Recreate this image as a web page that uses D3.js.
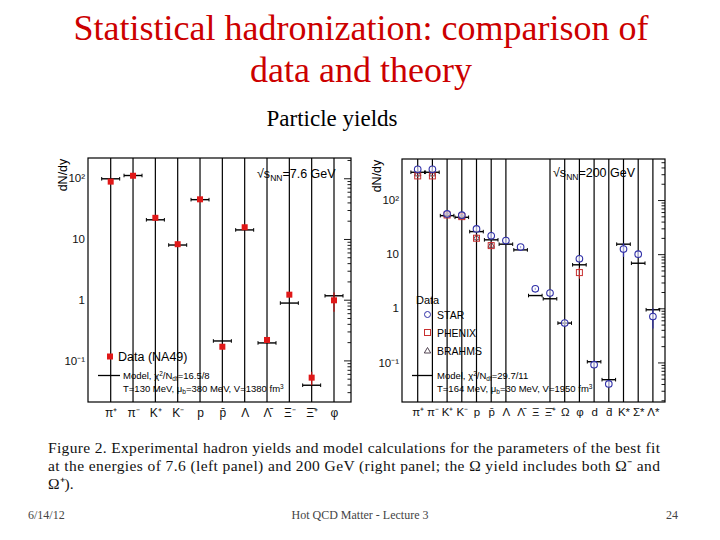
<!DOCTYPE html>
<html><head><meta charset="utf-8">
<script src="https://cdn.jsdelivr.net/npm/d3@7"></script>
<style>body{margin:0;background:#fff}svg{display:block}</style>
</head><body>
<svg id="c" width="720" height="540"></svg>
<script>
// ---------- data ----------
const leftCats = ["π⁺","π⁻","K⁺","K⁻","p","p̄","Λ","Λ̄","Ξ⁻","Ξ̄⁺","φ"];
const leftData = [88, 110, 22.3, 8.2, 45, 0.168, 15.6, 0.217, 1.21, 0.052, 0.977];
const leftErr  = [0.03,0.03,0.04,0.05,0.03,0.06,0.05,0.06,0.08,0.25,0.35];
const leftModel= [98, 111, 20.7, 7.95, 44.4, 0.209, 14.1, 0.194, 0.88, 0.039, 1.16];

const rightCats = ["π⁺","π⁻","K⁺","K⁻","p","p̄","Λ","Λ̄","Ξ","Ξ̄⁺","Ω","φ","d","d̄","K*","Σ*","Λ*"];
const starData  = [370, 370, 55.5, 52.5, 29.3, 21.8, 17.8, 13.5, 2.29, 1.91, 0.533, 8.2, 0.091, 0.040, 12.4, 10, 0.706];
const starErr   = [0.05,0.05,0.05,0.05,0.08,0.08,0.05,0.05,0.05,0.05,0.05,0.06,0.12,0.12,0.28,0.15,0.40];
const phenixData= [279, 279, 53, 49.4, 19.7, 14.4, null, null, null, null, null, 4.57, null, null, null, null, null];
const phenixErr = [0.05,0.05,0.04,0.04,0.08,0.08,0,0,0,0,0,0.23,0,0,0,0,0];
const brahmsData= [312, 312, 54.7, 51, 20.6, 15, null, null, null, null, null, null, null, null, null, null, null];
const rightModel= [326, 326, 51.5, 48, 26.1, 18.4, 15.3, 12, 1.72, 1.5, 0.533, 6.36, 0.103, 0.048, 15.3, 6.8, 0.94];
const rightNoGuide = ["Λ̄","Ξ"];

const yTickVals = [0.1, 1, 10, 100];
const yTickText = ["10⁻¹", "1", "10", "10²"];

const svg = d3.select("#c");
svg.append("rect").attr("width",720).attr("height",540).attr("fill","#fff");

// ---------- titles ----------
const serif = "'Liberation Serif','Times New Roman',serif";
const sans = "'Liberation Sans',Arial,sans-serif";
svg.append("text").attr("x",361).attr("y",40).attr("text-anchor","middle")
  .attr("font-family",serif).attr("font-size",36).attr("fill","#cc0000")
  .text("Statistical hadronization: comparison of");
svg.append("text").attr("x",361).attr("y",82).attr("text-anchor","middle")
  .attr("font-family",serif).attr("font-size",36).attr("fill","#cc0000")
  .text("data and theory");
svg.append("text").attr("x",332).attr("y",126).attr("text-anchor","middle")
  .attr("font-family",serif).attr("font-size",23).attr("fill","#000")
  .text("Particle yields");

// ---------- panel helper ----------
function panel(o){
  const g = svg.append("g");
  const x = d3.scalePoint().domain(o.cats).range(o.xr);
  const y = d3.scaleLog().domain(o.yd).range([o.fb, o.ft]);
  // guides
  g.selectAll("line.guide").data(o.cats.filter(c=>!(o.noGuide||[]).includes(c))).join("line")
    .attr("x1",d=>x(d)).attr("x2",d=>x(d)).attr("y1",o.ft).attr("y2",o.fb)
    .attr("stroke","#000").attr("stroke-width",1.2);
  // frame
  g.append("rect").attr("x",o.fl).attr("y",o.ft).attr("width",o.fr-o.fl).attr("height",o.fb-o.ft)
    .attr("fill","none").attr("stroke","#000").attr("stroke-width",1.2);
  // right-side ticks (inward)
  const minors = [];
  for (let e=-2;e<=2;e++) for (let m=2;m<=9;m++){const v=m*Math.pow(10,e); if(v>o.yd[0]&&v<o.yd[1]) minors.push(v);}
  const ma = g.append("g").attr("transform",`translate(${o.fr},0)`)
    .call(d3.axisLeft(y).tickValues(yTickVals).tickSize(7).tickFormat(""));
  const mi = g.append("g").attr("transform",`translate(${o.fr},0)`)
    .call(d3.axisLeft(y).tickValues(minors).tickSize(3.5).tickFormat(""));
  [ma,mi].forEach(a=>{a.select(".domain").remove(); a.selectAll("line").attr("stroke-width",0.9);});
  // left labels
  const la = g.append("g").attr("transform",`translate(${o.fl},0)`)
    .call(d3.axisLeft(y).tickValues(yTickVals).tickSize(0).tickPadding(3)
      .tickFormat(d=>yTickText[yTickVals.indexOf(d)]));
  la.select(".domain").remove();
  la.selectAll("text").attr("font-family",sans).attr("font-size",11.5).attr("fill","#111");
  // bottom labels
  const ba = g.append("g").attr("transform",`translate(0,${o.fb})`)
    .call(d3.axisBottom(x).tickSize(0).tickPadding(6));
  ba.select(".domain").remove();
  ba.selectAll("text").attr("font-family",sans).attr("font-size",o.lblSize).attr("fill","#111");
  // y title
  g.append("text").attr("transform",`translate(${o.ytx},${o.yty}) rotate(-90)`)
    .attr("text-anchor","middle").attr("font-family",sans).attr("font-size",12.5).text("dN/dy");
  // energy label
  const t = g.append("text").attr("x",o.ex).attr("y",o.ey).attr("font-family",sans).attr("font-size",12.5);
  t.append("tspan").text("√s");
  t.append("tspan").attr("font-size",8.5).attr("dy",3).text("NN");
  t.append("tspan").attr("dy",-3).text(o.energy);
  // model bars
  const mb = g.append("g");
  o.cats.forEach((c,i)=>{
    const v=o.model[i]; if(v==null) return;
    const cx=x(c), cy=y(v);
    mb.append("line").attr("x1",cx-o.hw).attr("x2",cx+o.hw).attr("y1",cy).attr("y2",cy).attr("stroke","#000").attr("stroke-width",1.4);
    [cx-o.hw,cx+o.hw].forEach(ex=>mb.append("line").attr("x1",ex).attr("x2",ex).attr("y1",cy-1.8).attr("y2",cy+1.8).attr("stroke","#000").attr("stroke-width",1));
  });
  return {g,x,y};
}

// ---------- left panel ----------
const L = panel({cats:leftCats, xr:[110.7,334], yd:[0.02065,215.6], fl:88, fr:351, ft:158, fb:402,
  noGuide:[], model:leftModel, hw:9, lblSize:12, ytx:67, yty:175, ex:257, ey:178, energy:"=7.6 GeV"});
leftCats.forEach((c,i)=>{
  const v=leftData[i], e=leftErr[i], cx=L.x(c);
  L.g.append("line").attr("x1",cx).attr("x2",cx).attr("y1",L.y(v*(1-e))).attr("y2",L.y(v*(1+e)))
    .attr("stroke","#c01010").attr("stroke-width",1.2);
  L.g.append("rect").attr("x",cx-3).attr("y",L.y(v)-3).attr("width",6).attr("height",6).attr("fill","#e01818");
});
// left legend
L.g.append("rect").attr("x",107).attr("y",353.5).attr("width",6).attr("height",6).attr("fill","#e01818");
L.g.append("text").attr("x",118).attr("y",361).attr("font-family",sans).attr("font-size",12.5).text("Data (NA49)");
L.g.append("line").attr("x1",98).attr("x2",120).attr("y1",375.5).attr("y2",375.5).attr("stroke","#000").attr("stroke-width",1.3);
const lt1 = L.g.append("text").attr("x",123).attr("y",378.5).attr("font-family",sans).attr("font-size",9.5);
lt1.append("tspan").text("Model, χ");
lt1.append("tspan").attr("font-size",6.5).attr("dy",-3).text("2");
lt1.append("tspan").attr("dy",3).text("/N");
lt1.append("tspan").attr("font-size",6.5).attr("dy",2).text("df");
lt1.append("tspan").attr("dy",-2).text("=16.5/8");
const lt2 = L.g.append("text").attr("x",123).attr("y",391.5).attr("font-family",sans).attr("font-size",9.5);
lt2.append("tspan").text("T=130 MeV, μ");
lt2.append("tspan").attr("font-size",6.5).attr("dy",2).text("b");
lt2.append("tspan").attr("dy",-2).text("=380 MeV, V=1380 fm");
lt2.append("tspan").attr("font-size",6.5).attr("dy",-3).text("3");

// ---------- right panel ----------
const R = panel({cats:rightCats, xr:[417.7,652.9], yd:[0.01858,573], fl:402, fr:665, ft:159, fb:402,
  noGuide:rightNoGuide, model:rightModel, hw:6.8, lblSize:11.5, ytx:381, yty:176, ex:553, ey:177, energy:"=200 GeV"});
const blue="#3030a8", pred="#c83030", tri="#403040";
rightCats.forEach((c,i)=>{
  const cx=R.x(c);
  if(brahmsData[i]!=null){
    const cy=R.y(brahmsData[i]);
    R.g.append("path").attr("d",`M${cx-3.2},${cy+2.6}L${cx+3.2},${cy+2.6}L${cx},${cy-3}Z`)
      .attr("fill","none").attr("stroke",tri).attr("stroke-width",0.9);
  }
  if(phenixData[i]!=null){
    const v=phenixData[i], e=phenixErr[i], cy=R.y(v);
    R.g.append("line").attr("x1",cx).attr("x2",cx).attr("y1",R.y(v*(1-e))).attr("y2",R.y(v*(1+e))).attr("stroke",pred).attr("stroke-width",1);
    R.g.append("rect").attr("x",cx-3).attr("y",cy-3).attr("width",6).attr("height",6)
      .attr("fill","none").attr("stroke",pred).attr("stroke-width",1);
  }
  if(starData[i]!=null){
    const v=starData[i], e=starErr[i], cy=R.y(v);
    R.g.append("line").attr("x1",cx).attr("x2",cx).attr("y1",R.y(v*(1-e))).attr("y2",R.y(v*(1+e))).attr("stroke",blue).attr("stroke-width",1.2);
    R.g.append("circle").attr("cx",cx).attr("cy",cy).attr("r",3.3)
      .attr("fill","#fff").attr("fill-opacity",0.6).attr("stroke",blue).attr("stroke-width",1.1);
  }
});
// right legend
R.g.append("text").attr("x",416).attr("y",304).attr("font-family",sans).attr("font-size",11).text("Data");
R.g.append("circle").attr("cx",427.5).attr("cy",314.5).attr("r",3).attr("fill","none").attr("stroke",blue).attr("stroke-width",1);
R.g.append("text").attr("x",437).attr("y",318.5).attr("font-family",sans).attr("font-size",10.5).text("STAR");
R.g.append("rect").attr("x",424.5).attr("y",329.5).attr("width",6).attr("height",6).attr("fill","none").attr("stroke",pred).attr("stroke-width",1);
R.g.append("text").attr("x",437).attr("y",336.5).attr("font-family",sans).attr("font-size",10.5).text("PHENIX");
R.g.append("path").attr("d","M424.3,353L430.7,353L427.5,347.5Z").attr("fill","none").attr("stroke",tri).attr("stroke-width",0.9);
R.g.append("text").attr("x",437).attr("y",354.5).attr("font-family",sans).attr("font-size",10.5).text("BRAHMS");
R.g.append("line").attr("x1",412).attr("x2",433).attr("y1",375.5).attr("y2",375.5).attr("stroke","#000").attr("stroke-width",1.3);
const rt1 = R.g.append("text").attr("x",437).attr("y",378.5).attr("font-family",sans).attr("font-size",9.5);
rt1.append("tspan").text("Model, χ");
rt1.append("tspan").attr("font-size",6.5).attr("dy",-3).text("2");
rt1.append("tspan").attr("dy",3).text("/N");
rt1.append("tspan").attr("font-size",6.5).attr("dy",2).text("df");
rt1.append("tspan").attr("dy",-2).text("=29.7/11");
const rt2 = R.g.append("text").attr("x",437).attr("y",391.5).attr("font-family",sans).attr("font-size",9.5);
rt2.append("tspan").text("T=164 MeV, μ");
rt2.append("tspan").attr("font-size",6.5).attr("dy",2).text("b");
rt2.append("tspan").attr("dy",-2).text("=30 MeV, V=1950 fm");
rt2.append("tspan").attr("font-size",6.5).attr("dy",-3).text("3");

// ---------- caption ----------
const cap = svg.append("g").attr("font-family",serif).attr("font-size",15.5).attr("fill","#111");
cap.append("text").attr("x",48).attr("y",453).attr("textLength",612).attr("lengthAdjust","spacing")
  .text("Figure 2. Experimental hadron yields and model calculations for the parameters of the best fit");
cap.append("text").attr("x",48).attr("y",471).attr("textLength",612).attr("lengthAdjust","spacing")
  .text("at the energies of 7.6 (left panel) and 200 GeV (right panel; the Ω yield includes both Ω⁻ and");
cap.append("text").attr("x",48).attr("y",489).text("Ω⁺).");

// ---------- footer ----------
const ft = svg.append("g").attr("font-family",serif).attr("font-size",12).attr("fill","#444");
ft.append("text").attr("x",28).attr("y",519).text("6/14/12");
ft.append("text").attr("x",360).attr("y",519).attr("text-anchor","middle").text("Hot QCD Matter - Lecture 3");
ft.append("text").attr("x",678).attr("y",519).attr("text-anchor","end").text("24");
</script>
</body></html>
